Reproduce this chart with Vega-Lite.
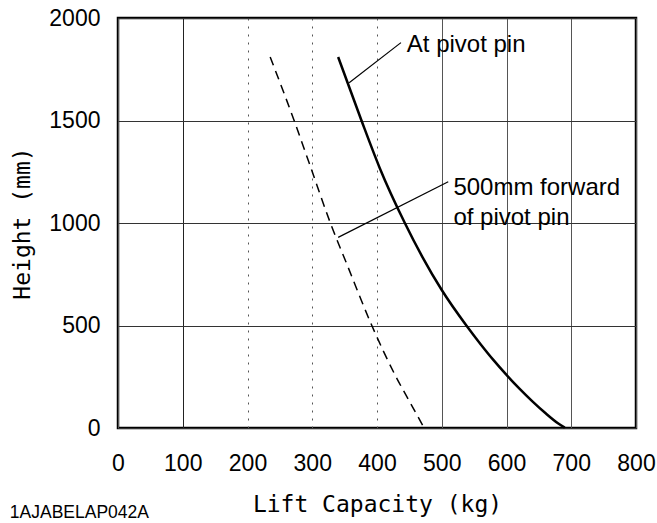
{
  "$schema": "https://vega.github.io/schema/vega-lite/v6.json",
  "width": 518,
  "height": 410,
  "autosize": {"type": "none"},
  "padding": {"left": 118, "top": 18, "right": 21, "bottom": 95},
  "background": "white",
  "config": {
    "view": {"stroke": "black", "strokeWidth": 2.5},
    "axis": {
      "labelFont": "Liberation Sans",
      "labelFontSize": 23,
      "labelColor": "black",
      "titleFont": "DejaVu Sans Mono",
      "titleFontSize": 23,
      "titleFontWeight": "normal",
      "titleColor": "black",
      "domain": false,
      "ticks": false,
      "tickSize": 0
    }
  },
  "title": {
    "text": "1AJABELAP042A",
    "orient": "bottom",
    "anchor": "start",
    "frame": "bounds",
    "font": "Liberation Sans",
    "fontSize": 17.5,
    "fontWeight": "normal",
    "color": "black",
    "baseline": "alphabetic",
    "offset": 2,
    "dx": -2
  },
  "datasets": {
    "curves": [
      {"series": "At pivot pin", "cap": 340, "h": 1810},
      {"series": "At pivot pin", "cap": 376, "h": 1500},
      {"series": "At pivot pin", "cap": 404, "h": 1270},
      {"series": "At pivot pin", "cap": 443, "h": 1000},
      {"series": "At pivot pin", "cap": 470, "h": 835},
      {"series": "At pivot pin", "cap": 500, "h": 673},
      {"series": "At pivot pin", "cap": 538, "h": 500},
      {"series": "At pivot pin", "cap": 560, "h": 409},
      {"series": "At pivot pin", "cap": 580, "h": 331},
      {"series": "At pivot pin", "cap": 600, "h": 259},
      {"series": "At pivot pin", "cap": 620, "h": 192},
      {"series": "At pivot pin", "cap": 640, "h": 130},
      {"series": "At pivot pin", "cap": 660, "h": 73},
      {"series": "At pivot pin", "cap": 680, "h": 22},
      {"series": "At pivot pin", "cap": 690, "h": 2},
      {"series": "500mm forward of pivot pin", "cap": 235, "h": 1810},
      {"series": "500mm forward of pivot pin", "cap": 272, "h": 1500},
      {"series": "500mm forward of pivot pin", "cap": 295, "h": 1295},
      {"series": "500mm forward of pivot pin", "cap": 328, "h": 1000},
      {"series": "500mm forward of pivot pin", "cap": 355, "h": 787},
      {"series": "500mm forward of pivot pin", "cap": 392, "h": 500},
      {"series": "500mm forward of pivot pin", "cap": 428, "h": 258},
      {"series": "500mm forward of pivot pin", "cap": 451, "h": 125},
      {"series": "500mm forward of pivot pin", "cap": 472, "h": 5}
    ],
    "leaders": [
      {"cap": 437, "h": 1880, "cap2": 357, "h2": 1684},
      {"cap": 510, "h": 1201, "cap2": 340, "h2": 930}
    ],
    "notes": [
      {"cap": 446, "h": 1868, "label": "At pivot pin"},
      {"cap": 518, "h": 1171, "label": "500mm forward\nof pivot pin"}
    ]
  },
  "encoding": {
    "x": {
      "field": "cap", "type": "quantitative",
      "scale": {"domain": [0, 800], "nice": false},
      "axis": {
        "values": [0, 100, 200, 300, 400, 500, 600, 700, 800],
        "format": "d",
        "title": "Lift Capacity (kg)",
        "labelPadding": 35, "labelBaseline": "middle", "titlePadding": 18, "labelFlush": false,
        "grid": true,
        "gridColor": {"condition": {"test": "datum.value === 100", "value": "#222"}, "value": "#555"},
        "gridDash": {"condition": {"test": "datum.value >= 200 && datum.value <= 400", "value": [2, 6]}, "value": []},
        "gridWidth": 1
      }
    },
    "y": {
      "field": "h", "type": "quantitative",
      "scale": {"domain": [0, 2000], "nice": false},
      "axis": {
        "values": [0, 500, 1000, 1500, 2000],
        "format": "d",
        "title": "Height (mm)",
        "labelPadding": 18, "titlePadding": 14, "labelFlush": false,
        "grid": true, "gridColor": "#333", "gridWidth": 1
      }
    }
  },
  "layer": [
    {
      "data": {"name": "curves"},
      "transform": [{"filter": "datum.series === 'At pivot pin'"}],
      "mark": {"type": "line", "color": "black", "strokeWidth": 2.5, "interpolate": "monotone"},
      "encoding": {"order": {"field": "cap", "type": "quantitative"}}
    },
    {
      "data": {"name": "curves"},
      "transform": [{"filter": "datum.series !== 'At pivot pin'"}],
      "mark": {"type": "line", "color": "black", "strokeWidth": 1.5, "strokeDash": [9, 6], "interpolate": "monotone"},
      "encoding": {"order": {"field": "cap", "type": "quantitative"}}
    },
    {
      "data": {"name": "leaders"},
      "mark": {"type": "rule", "color": "black", "strokeWidth": 1.2},
      "encoding": {
        "x2": {"field": "cap2"},
        "y2": {"field": "h2"}
      }
    },
    {
      "data": {"name": "notes"},
      "mark": {"type": "text", "align": "left", "baseline": "middle", "font": "Liberation Sans", "fontSize": 24, "color": "black", "lineBreak": "\n", "lineHeight": 30},
      "encoding": {
        "text": {"field": "label", "type": "nominal"}
      }
    }
  ]
}
